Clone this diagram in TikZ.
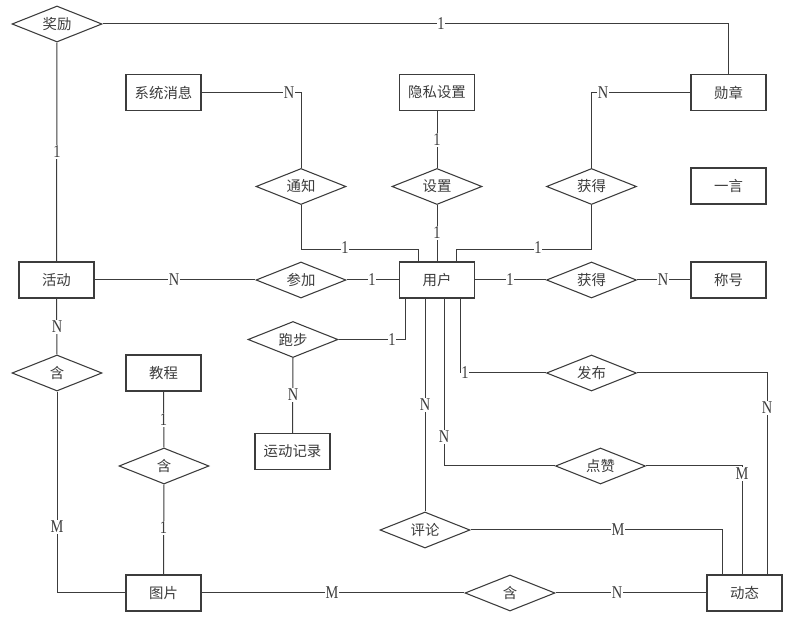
\documentclass[tikz,border=0pt]{standalone}
\usepackage{fontspec}
\setmainfont{Liberation Serif}
\newfontfamily\cjk{Noto Sans CJK SC}
\newfontfamily\cardfont[FakeStretch=0.8]{Liberation Serif}
\usetikzlibrary{shapes.geometric}
\definecolor{linegray}{HTML}{3C3C3C}

\begin{document}
\begin{tikzpicture}[x=0.75pt,y=-0.75pt,
    entity/.style={rectangle,draw=linegray,line width=0.9pt,minimum width=56.25pt,minimum height=27pt,inner sep=0pt,font=\cjk\fontsize{10.8pt}{12pt}\selectfont,text=linegray},
    relation/.style={diamond,draw=linegray,line width=0.8pt,minimum width=67.5pt,minimum height=27pt,inner sep=0pt,aspect=2.5,font=\cjk\fontsize{10.8pt}{12pt}\selectfont,text=linegray},
    card/.style={fill=white,inner sep=0.6pt,font=\cardfont\fontsize{13.5pt}{14pt}\selectfont,text=linegray},
    every path/.style={draw=linegray,line width=0.75pt}]
    \useasboundingbox[fill=white,draw=none] (0,0) rectangle (794,620);

    % entities
    \node[entity] (xx) at (163.5,92.5) {系统消息};
    \node[entity] (ys) at (437,92.5) {隐私设置};
    \node[entity] (xz) at (728.5,92.5) {勋章};
    \node[entity] (yy) at (728.5,186) {一言};
    \node[entity] (hd) at (56.5,280) {活动};
    \node[entity] (yh) at (437,280) {用户};
    \node[entity] (ch) at (728.5,280) {称号};
    \node[entity] (jc) at (163.5,373) {教程};
    \node[entity] (ydjl) at (292.5,451.5) {运动记录};
    \node[entity] (tp) at (163.5,593) {图片};
    \node[entity] (dt) at (744.5,593) {动态};

    % relations
    \node[relation] (jl) at (57,24) {奖励};
    \node[relation] (tz) at (301,186.5) {通知};
    \node[relation] (sz) at (437,186.5) {设置};
    \node[relation] (hq1) at (591.5,186.5) {获得};
    \node[relation] (cj) at (301,280) {参加};
    \node[relation] (hq2) at (591.5,280) {获得};
    \node[relation] (pb) at (293,339.5) {跑步};
    \node[relation] (han1) at (57,373) {含};
    \node[relation] (fb) at (591.5,373) {发布};
    \node[relation] (han2) at (164,466) {含};
    \node[relation] (dz) at (600.5,466) {点赞};
    \node[relation] (pl) at (425,530) {评论};
    \node[relation] (han3) at (510,593) {含};

    % attachment points on the boxes
    \coordinate (u1) at (418,262);
    \coordinate (u3) at (456,262);
    \coordinate (d1) at (405,298);
    \coordinate (d2) at (425,298);
    \coordinate (d3) at (444,298);
    \coordinate (d4) at (460,298);
    \coordinate (t1) at (722,575);
    \coordinate (t2) at (742,575);
    \coordinate (t3) at (767,575);

    % connectors
    \draw (jl.east) -| (xz.north);
    \draw (jl.south) -- (hd.north);
    \draw (xx.east) -| (tz.north);
    \draw (tz.south) -- ++(0,44) -| (u1);
    \draw (ys.south) -- (sz.north);
    \draw (sz.south) -- (yh.north);
    \draw (xz.west) -| (hq1.north);
    \draw (hq1.south) -- ++(0,44) -| (u3);
    \draw (hd.east) -- (cj.west);
    \draw (cj.east) -- (yh.west);
    \draw (yh.east) -- (hq2.west);
    \draw (hq2.east) -- (ch.west);
    \draw (pb.east) -| (d1);
    \draw (pb.south) -- (ydjl.north);
    \draw (hd.south) -- (han1.north);
    \draw (han1.south) |- (tp.west);
    \draw (jc.south) -- (han2.north);
    \draw (han2.south) -- (tp.north);
    \draw (tp.east) -- (han3.west);
    \draw (han3.east) -- (dt.west);
    \draw (d4) |- (fb.west);
    \draw (fb.east) -| (t3);
    \draw (d3) |- (dz.west);
    \draw (dz.east) -| (t2);
    \draw (d2) -- (pl.north);
    \draw (pl.east) -| (t1);

    % cardinalities
    \node[card] (c1) at (441,24) {1};
    \node[card] (c2) at (57,152) {1};
    \node[card] (c3) at (289,92.5) {N};
    \node[card] (c4) at (345,248) {1};
    \node[card] (c5) at (437,140) {1};
    \node[card] (c6) at (437,233) {1};
    \node[card] (c7) at (603,92.5) {N};
    \node[card] (c8) at (538,248) {1};
    \node[card] (c9) at (174,280) {N};
    \node[card] (c10) at (372,280) {1};
    \node[card] (c11) at (510,280) {1};
    \node[card] (c12) at (663,280) {N};
    \node[card] (c13) at (392,339.5) {1};
    \node[card] (c14) at (293,395) {N};
    \node[card] (c15) at (57,327) {N};
    \node[card] (c16) at (57,527) {M};
    \node[card] (c17) at (163.5,420) {1};
    \node[card] (c18) at (163.5,528) {1};
    \node[card] (c19) at (332,593) {M};
    \node[card] (c20) at (617,593) {N};
    \node[card] (c21) at (465,373) {1};
    \node[card] (c22) at (767,408) {N};
    \node[card] (c23) at (444,437) {N};
    \node[card] (c24) at (742,474) {M};
    \node[card] (c25) at (425,405) {N};
    \node[card] (c26) at (618,530) {M};
  \end{tikzpicture}
\end{document}
